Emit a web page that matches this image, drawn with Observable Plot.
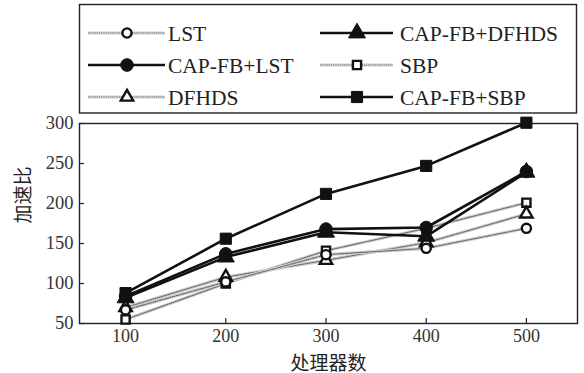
<!DOCTYPE html>
<html><head><meta charset="utf-8">
<script src="https://cdn.jsdelivr.net/npm/d3@7"></script>
<script src="https://cdn.jsdelivr.net/npm/@observablehq/plot@0.6"></script>
<style>
body{margin:0;background:#fff;}
#wrap{position:relative;width:584px;height:373px;overflow:hidden;}
#wrap svg{position:absolute;left:0;top:0;}
</style></head><body><div id="wrap"></div>
<script>
// ---- data ----
const processors = [100, 200, 300, 400, 500];
const seriesNames = ["LST", "CAP-FB+LST", "DFHDS", "CAP-FB+DFHDS", "SBP", "CAP-FB+SBP"];
const lst        = [67, 102, 136, 144, 169];
const capfbLst   = [84, 137, 168, 170, 240];
const dfhds      = [70, 108, 129, 151, 187];
const capfbDfhds = [82, 133, 164, 159, 239];
const sbp        = [55, 100, 141, 169, 201];
const capfbSbp   = [88, 156, 212, 247, 301];
const xTicks = [100, 200, 300, 400, 500];
const yTicks = [50, 100, 150, 200, 250, 300];
const xTitle = "处理器数";
const yTitle = "加速比";

const seriesValues = {
  "LST": lst, "CAP-FB+LST": capfbLst, "DFHDS": dfhds,
  "CAP-FB+DFHDS": capfbDfhds, "SBP": sbp, "CAP-FB+SBP": capfbSbp
};
// ---- styles ----
const style = {
  "LST":          {solid: false, symbol: "circle",   filled: false},
  "CAP-FB+LST":   {solid: true,  symbol: "circle",   filled: true},
  "DFHDS":        {solid: false, symbol: "triangle", filled: false},
  "CAP-FB+DFHDS": {solid: true,  symbol: "triangle", filled: true},
  "SBP":          {solid: false, symbol: "square",   filled: false},
  "CAP-FB+SBP":   {solid: true,  symbol: "square",   filled: true}
};
const serif = "Liberation Serif, DejaVu Serif, serif";
const cjk = "Noto Sans CJK SC";

const rows = seriesNames.flatMap(s => processors.map((p, i) => ({series: s, x: p, y: seriesValues[s][i]})));

const marks = [];
const order = ["SBP", "DFHDS", "LST", "CAP-FB+DFHDS", "CAP-FB+LST", "CAP-FB+SBP"];
for (const s of order) {
  const d = rows.filter(r => r.series === s);
  const st = style[s];
  if (st.solid) {
    marks.push(Plot.line(d, {x: "x", y: "y", stroke: "#111", strokeWidth: 2.6}));
  } else {
    marks.push(Plot.line(d, {x: "x", y: "y", stroke: "#cfcfcf", strokeWidth: 3.2}));
    marks.push(Plot.line(d, {x: "x", y: "y", stroke: "#6a6a6a", strokeWidth: 1.2, strokeDasharray: "1 1.2"}));
  }
}
for (const s of order) {
  const d = rows.filter(r => r.series === s);
  const st = style[s];
  marks.push(Plot.dot(d, {
    x: "x", y: "y", symbol: st.symbol,
    r: st.filled ? 6.3 : 4.6,
    fill: st.filled ? "#111" : "#fff",
    stroke: "#111", strokeWidth: st.filled ? 1 : 2.4
  }));
}

const plot = Plot.plot({
  width: 584, height: 373,
  marginTop: 123, marginBottom: 50, marginLeft: 79, marginRight: 7,
  style: {fontFamily: serif, background: "transparent", overflow: "visible"},
  x: {domain: [54, 551]},
  y: {domain: [50, 300]},
  marks: [
    Plot.frame({stroke: "#222", strokeWidth: 1.4}),
    Plot.tickX(xTicks, {x: d => d, insetTop: 195, stroke: "#222", strokeWidth: 1.2}),
    Plot.tickY(yTicks, {y: d => d, insetRight: 493, stroke: "#222", strokeWidth: 1.2}),
    Plot.axisX(xTicks, {tickSize: 0, tickPadding: 6, fontSize: 18, fontFamily: serif, label: null, fill: "#333"}),
    Plot.axisY(yTicks, {tickSize: 0, tickPadding: 6, fontSize: 18.5, fontFamily: serif, label: null, fill: "#333"}),
    Plot.text([xTitle], {frameAnchor: "bottom", dy: 46, fontSize: 19, fontFamily: cjk, fill: "#222"}),
    Plot.text([yTitle], {frameAnchor: "left", rotate: -90, dx: -56, fontSize: 19, fontFamily: cjk, fill: "#222"}),
    ...marks
  ]
});
document.getElementById("wrap").appendChild(plot);

// ---- legend ----
const leg = d3.select("#wrap").append("svg")
  .attr("width", 584).attr("height", 120);
leg.append("rect").attr("x", 79.5).attr("y", 4.5).attr("width", 497).attr("height", 108.5)
  .attr("fill", "#fff").attr("stroke", "#222").attr("stroke-width", 1.4);
const cols = [{x0: 88, x1: 165, m: 127, t: 168}, {x0: 320, x1: 393, m: 357, t: 400}];
const rowsY = [33, 65, 97];
const legendOrder = [["LST", "CAP-FB+LST", "DFHDS"], ["CAP-FB+DFHDS", "SBP", "CAP-FB+SBP"]];
legendOrder.forEach((names, ci) => {
  const c = cols[ci];
  names.forEach((s, ri) => {
    const y = rowsY[ri];
    const st = style[s];
    const g = leg.append("g");
    if (st.solid) {
      g.append("line").attr("x1", c.x0).attr("x2", c.x1).attr("y1", y).attr("y2", y)
        .attr("stroke", "#111").attr("stroke-width", 2.6);
    } else {
      g.append("line").attr("x1", c.x0).attr("x2", c.x1).attr("y1", y).attr("y2", y)
        .attr("stroke", "#cfcfcf").attr("stroke-width", 3.2);
      g.append("line").attr("x1", c.x0).attr("x2", c.x1).attr("y1", y).attr("y2", y)
        .attr("stroke", "#6a6a6a").attr("stroke-width", 1.2).attr("stroke-dasharray", "1 1.2");
    }
    const sym = {circle: d3.symbolCircle, triangle: d3.symbolTriangle, square: d3.symbolSquare}[st.symbol];
    const r = st.filled ? 6.3 : 4.6;
    g.append("path").attr("transform", `translate(${c.m},${y})`)
      .attr("d", d3.symbol(sym, Math.PI * r * r)())
      .attr("fill", st.filled ? "#111" : "#fff").attr("stroke", "#111")
      .attr("stroke-width", st.filled ? 1 : 2.4);
    g.append("text").attr("x", c.t).attr("y", y).attr("dy", "0.35em")
      .attr("font-family", serif)
      .attr("font-size", 21.5).attr("fill", "#222").text(s);
  });
});
</script>
</body></html>
